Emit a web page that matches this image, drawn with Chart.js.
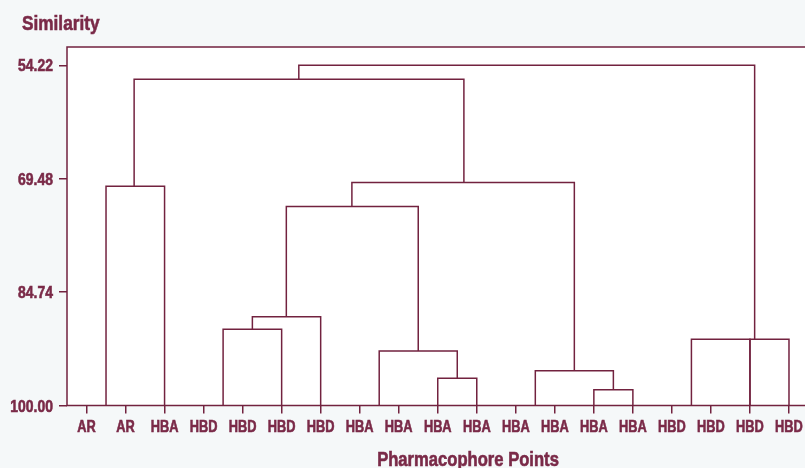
<!DOCTYPE html>
<html>
<head>
<meta charset="utf-8">
<title>Similarity dendrogram</title>
<script src="https://cdn.jsdelivr.net/npm/chart.js@4.4.1/dist/chart.umd.min.js"></script>
<style>
    html, body { margin: 0; padding: 0; background: #f5f8f9; overflow: hidden; }
    #wrap { position: relative; width: 812px; height: 468px; }
</style>
</head>
<body>
<div id="wrap"><canvas id="dendro"></canvas></div>
<script>
const leafLabels = ["AR", "AR", "HBA", "HBD", "HBD", "HBD", "HBD", "HBA", "HBA", "HBA",
    "HBA", "HBA", "HBA", "HBA", "HBA", "HBD", "HBD", "HBD", "HBD"];
const yTicks = [54.22, 69.48, 84.74, 100.00];

// each link is a U shape: left leg, crossbar at linkHeight, right leg
const linkLeftX  = [5.44, 1.22, 0.5, 6.8, 5.12, 4.25, 3.5, 7.5, 9.0, 11.5, 13.0, 15.5, 17.0];
const linkRightX = [17.12, 9.67, 2.0, 12.5, 8.5, 6.0, 5.0, 9.5, 10.0, 13.5, 14.0, 17.0, 18.0];
const linkHeight = [54.22, 56.10, 70.49, 69.99, 73.22, 88.06, 89.75, 92.67, 96.34, 95.32, 97.87, 91.10, 91.10];
const leftBase   = [56.10, 70.49, 100, 73.22, 88.06, 89.75, 100, 100, 100, 100, 100, 100, 100];
const rightBase  = [91.10, 69.99, 100, 95.32, 92.67, 100, 100, 96.34, 100, 97.87, 100, 100, 100];

const ink = "#72223f";
const textInk = "#7a2a48";
const fontFamily = "'Liberation Sans', Arial, sans-serif";

const datasets = linkLeftX.map((xl, i) => ({
    data: [
        { x: xl, y: leftBase[i] },
        { x: xl, y: linkHeight[i] },
        { x: linkRightX[i], y: linkHeight[i] },
        { x: linkRightX[i], y: rightBase[i] }
    ],
    borderColor: ink,
    borderWidth: 1.5,
    pointRadius: 0,
    tension: 0,
    fill: false
}));

// no narrow font installed, so squeeze Liberation Sans Bold sideways
function narrowText(ctx, text, x, y, size, squeeze, align) {
    ctx.save();
    ctx.translate(x, y);
    ctx.scale(squeeze, 1);
    ctx.font = "bold " + size + "px " + fontFamily;
    ctx.textAlign = align;
    ctx.textBaseline = "alphabetic";
    ctx.fillStyle = textInk;
    ctx.strokeStyle = textInk;
    ctx.lineWidth = 0.6;
    ctx.fillText(text, 0, 0);
    ctx.strokeText(text, 0, 0);
    ctx.restore();
}

const framePlugin = {
    id: "frame",
    beforeDraw(chart) {
        const { ctx, chartArea: a } = chart;
        ctx.save();
        ctx.fillStyle = "#f5f8f9";
        ctx.fillRect(0, 0, chart.width, chart.height);
        ctx.fillStyle = "#ffffff";
        ctx.fillRect(a.left, a.top, a.right - a.left, a.bottom - a.top);
        ctx.restore();
    },
    afterDraw(chart) {
        const { ctx, chartArea: a } = chart;
        const xs = chart.scales.x, ys = chart.scales.y;
        ctx.save();
        ctx.strokeStyle = ink;
        ctx.lineWidth = 1.5;
        ctx.strokeRect(a.left, a.top, a.right - a.left, a.bottom - a.top);
        ctx.restore();

        ys.ticks.forEach(t => {
            narrowText(ctx, t.value.toFixed(2), a.left - 14, ys.getPixelForValue(t.value) + 6, 17, 0.82, "right");
        });
        xs.ticks.forEach(t => {
            narrowText(ctx, leafLabels[t.value], xs.getPixelForValue(t.value), a.bottom + 26, 16, 0.8, "center");
        });

        narrowText(ctx, "Similarity", 22, 29.5, 21, 0.82, "left");
        narrowText(ctx, "Pharmacophore Points", 468, 466, 20, 0.83, "center");
    }
};

new Chart(document.getElementById("dendro"), {
    type: "line",
    data: { datasets: datasets },
    plugins: [framePlugin],
    options: {
        responsive: true,
        maintainAspectRatio: false,
        animation: false,
        layout: { padding: { top: 47, left: 0, right: 3.5, bottom: 0 } },
        plugins: {
            legend: { display: false },
            tooltip: { enabled: false }
        },
        scales: {
            x: {
                type: "linear",
                min: -0.5,
                max: 18.5,
                afterBuildTicks: scale => {
                    scale.ticks = leafLabels.map((_, i) => ({ value: i }));
                },
                afterFit: scale => { scale.height = 62.5; },
                ticks: { display: false },
                grid: { drawOnChartArea: false, drawTicks: true, tickLength: 8, color: ink, lineWidth: 1.5 },
                border: { display: false }
            },
            y: {
                type: "linear",
                reverse: true,
                min: 51.76,
                max: 100,
                afterBuildTicks: scale => {
                    scale.ticks = yTicks.map(v => ({ value: v }));
                },
                afterFit: scale => { scale.width = 67; },
                ticks: { display: false },
                grid: { drawOnChartArea: false, drawTicks: true, tickLength: 8, color: ink, lineWidth: 1.5 },
                border: { display: false }
            }
        }
    }
});
</script>
</body>
</html>
